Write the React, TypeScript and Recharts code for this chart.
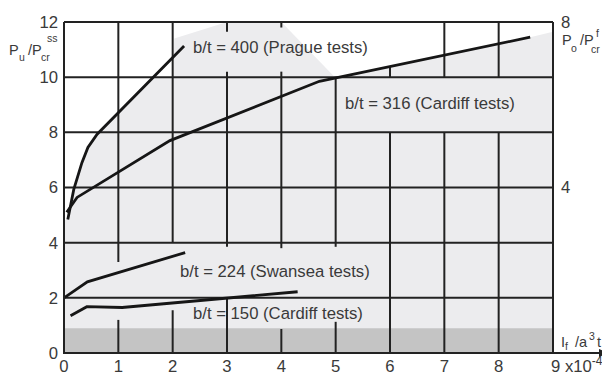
import React from "react";
import {
  ComposedChart,
  Area,
  Line,
  XAxis,
  YAxis,
  ReferenceLine,
  ReferenceArea,
} from "recharts";

// Axis ticks
const xTicks = [0, 1, 2, 3, 4, 5, 6, 7, 8, 9];
const leftTicks = [0, 2, 4, 6, 8, 10, 12];
const rightTicks = [4, 8];

// Test curves: [If/a^3t (x10^-4), Pu/Pcr]
const prague400: [number, number][] = [
  [0.07, 4.84], [0.18, 5.93], [0.33, 6.9], [0.44, 7.45], [0.61, 7.93], [2.21, 11.13],
];
const cardiff316: [number, number][] = [
  [0.05, 5.1], [0.24, 5.64], [1.95, 7.7], [4.7, 9.85], [8.58, 11.45],
];
const swansea224: [number, number][] = [
  [0.0, 2.0], [0.43, 2.58], [2.23, 3.64],
];
const cardiff150: [number, number][] = [
  [0.12, 1.35], [0.42, 1.68], [1.07, 1.65], [4.3, 2.22],
];

// Upper edge of the light shaded zone
const shadedEnvelope: [number, number][] = [
  [0, 4.8], [0.07, 4.84], [0.18, 5.93], [0.33, 6.9], [0.44, 7.45], [0.61, 7.93],
  [1.63, 10.0], [2.0, 10.0], [2.03, 11.4], [3.0, 12], [4.0, 12], [5.0, 9.97],
  [8.58, 11.45], [9.0, 11.65],
];
// Top of the dark band along the bottom
const darkBandTop = 0.9;

// Grid: vertical pieces [x, yFrom, yTo] and full horizontal rules
const verticalGrid: [number, number, number][] = [
  [1, 0, 1.2], [1, 3.3, 12],
  [2, 0, 1.55], [2, 4, 12],
  [3, 0, 2], [3, 3.85, 10.2], [3, 11.65, 12],
  [4, 0, 0.87], [4, 3.8, 10.2], [4, 11.8, 12],
  [5, 0, 1.13], [5, 3.85, 10],
  [6, 0, 8], [6, 10, 10.4],
  [7, 0, 8], [7, 10, 12],
  [8, 0, 8], [8, 10, 12],
];
const horizontalGrid = [2, 4, 6, 8, 10];

const toPoints = (pts: [number, number][]) => pts.map(([x, y]) => ({ x, y }));

const W = 602;
const H = 366;
const FONT = "'Liberation Sans', Arial, Helvetica, sans-serif";
const INK = "#161616";
const TEXT = "#3a3a3a";
const GRID = "#222222";
const FS = 16.7;

const XTick = (props: any) => {
  const { x, y, payload } = props;
  if (payload.value === 9) {
    return (
      <text x={x - 2} y={y} dy="0.71em" textAnchor="start" fontSize={FS} fontFamily={FONT} fill={TEXT}>
        9 x10
        <tspan fontSize={12} dy={-7}>-4</tspan>
      </text>
    );
  }
  return (
    <text x={x} y={y} dy="0.71em" textAnchor="middle" fontSize={FS} fontFamily={FONT} fill={TEXT}>
      {payload.value}
    </text>
  );
};

const RightTick = (props: any) => {
  const { x, y, payload } = props;
  return (
    <text x={x} y={y} dy="0.355em" textAnchor="start" fontSize={FS} fontFamily={FONT} fill={TEXT}>
      {payload.value}
    </text>
  );
};

const labelStyle = { fontSize: FS, fontFamily: FONT, fill: TEXT };
const titleStyle = { fontSize: 14.5, fontFamily: FONT, fill: TEXT };
const subStyle = { fontSize: 10.5, fontFamily: FONT, fill: TEXT };

export default function App() {
  return (
    <div style={{ position: "relative", width: W, height: H }}>
      <ComposedChart
        width={W}
        height={H}
        margin={{ top: 14, right: 0, bottom: 0, left: 0 }}
      >
        <XAxis
          dataKey="x"
          type="number"
          domain={[0, 9]}
          ticks={xTicks}
          interval={0}
          allowDataOverflow
          height={21}
          axisLine={false}
          tickLine={false}
          tickSize={0}
          tickMargin={7}
          tick={<XTick />}
        />
        <YAxis
          yAxisId="left"
          type="number"
          domain={[0, 12]}
          ticks={leftTicks}
          interval={0}
          allowDataOverflow
          width={56}
          axisLine={{ stroke: GRID, strokeWidth: 2 }}
          tickLine={false}
          tickSize={0}
          tickMargin={6}
          tick={{ fontSize: FS, fontFamily: FONT, fill: TEXT }}
        />
        <YAxis
          yAxisId="right"
          orientation="right"
          type="number"
          domain={[0, 8]}
          ticks={rightTicks}
          interval={0}
          allowDataOverflow
          width={57}
          axisLine={false}
          tickLine={false}
          tickSize={0}
          tickMargin={8}
          tick={<RightTick />}
        />

        <Area
          yAxisId="left"
          data={toPoints(shadedEnvelope)}
          dataKey="y"
          type="linear"
          fill="#ececee"
          fillOpacity={1}
          stroke="none"
          isAnimationActive={false}
          baseValue={0}
        />
        <ReferenceArea
          yAxisId="left"
          x1={0}
          x2={9}
          y1={0}
          y2={darkBandTop}
          fill="#c4c4c4"
          fillOpacity={1}
          stroke="none"
        />

        {horizontalGrid.map((y) => (
          <ReferenceLine key={`h${y}`} yAxisId="left" y={y} stroke={GRID} strokeWidth={2} />
        ))}
        {verticalGrid.map(([x, y0, y1], i) => (
          <ReferenceLine
            key={`v${i}`}
            yAxisId="left"
            segment={[{ x, y: y0 }, { x, y: y1 }]}
            stroke={GRID}
            strokeWidth={2}
          />
        ))}
        <ReferenceLine yAxisId="left" y={12} stroke={GRID} strokeWidth={2} />
        <ReferenceLine yAxisId="left" x={9} stroke={GRID} strokeWidth={2} />

        <Line yAxisId="left" data={toPoints(prague400)} dataKey="y" type="linear" stroke={INK} strokeWidth={2.8} dot={false} isAnimationActive={false} />
        <Line yAxisId="left" data={toPoints(cardiff316)} dataKey="y" type="linear" stroke={INK} strokeWidth={2.8} dot={false} isAnimationActive={false} />
        <Line yAxisId="left" data={toPoints(swansea224)} dataKey="y" type="linear" stroke={INK} strokeWidth={2.8} dot={false} isAnimationActive={false} />
        <Line yAxisId="left" data={toPoints(cardiff150)} dataKey="y" type="linear" stroke={INK} strokeWidth={2.8} dot={false} isAnimationActive={false} />
      </ComposedChart>

      <svg
        width={W}
        height={H}
        style={{ position: "absolute", left: 0, top: 0, pointerEvents: "none" }}
      >
        {/* x axis with arrow */}
        <line x1={55} y1={345} x2={594} y2={345} stroke={GRID} strokeWidth={2} />
        <polygon points="601,345 591,341 591,349" fill={GRID} />

        {/* curve labels */}
        <text x={185} y={45} {...labelStyle}>b/t = 400 (Prague tests)</text>
        <text x={337} y={101} {...labelStyle}>b/t = 316 (Cardiff tests)</text>
        <text x={172} y={269} {...labelStyle}>b/t = 224 (Swansea tests)</text>
        <text x={185} y={311} {...labelStyle}>b/t = 150 (Cardiff tests)</text>

        {/* left axis title: Pu / Pcr^ss */}
        <text x={1} y={47} {...titleStyle}>P</text>
        <text x={11} y={53} {...subStyle}>u</text>
        <text x={20} y={47} {...titleStyle}>/P</text>
        <text x={33} y={53} {...subStyle}>cr</text>
        <text x={39} y={34} {...subStyle}>ss</text>

        {/* right axis title: Po / Pcr^f */}
        <text x={554} y={37} {...titleStyle}>P</text>
        <text x={563} y={44} {...subStyle}>o</text>
        <text x={572} y={37} {...titleStyle}>/P</text>
        <text x={583} y={45} {...subStyle}>cr</text>
        <text x={588} y={29} {...subStyle}>f</text>

        {/* x axis title: If / a^3 t */}
        <text x={553} y={339} {...titleStyle}>I</text>
        <text x={557} y={342} {...subStyle}>f</text>
        <text x={567} y={339} {...titleStyle}>/a</text>
        <text x={581} y={332} {...subStyle}>3</text>
        <text x={589} y={339} {...titleStyle}>t</text>
      </svg>
    </div>
  );
}
